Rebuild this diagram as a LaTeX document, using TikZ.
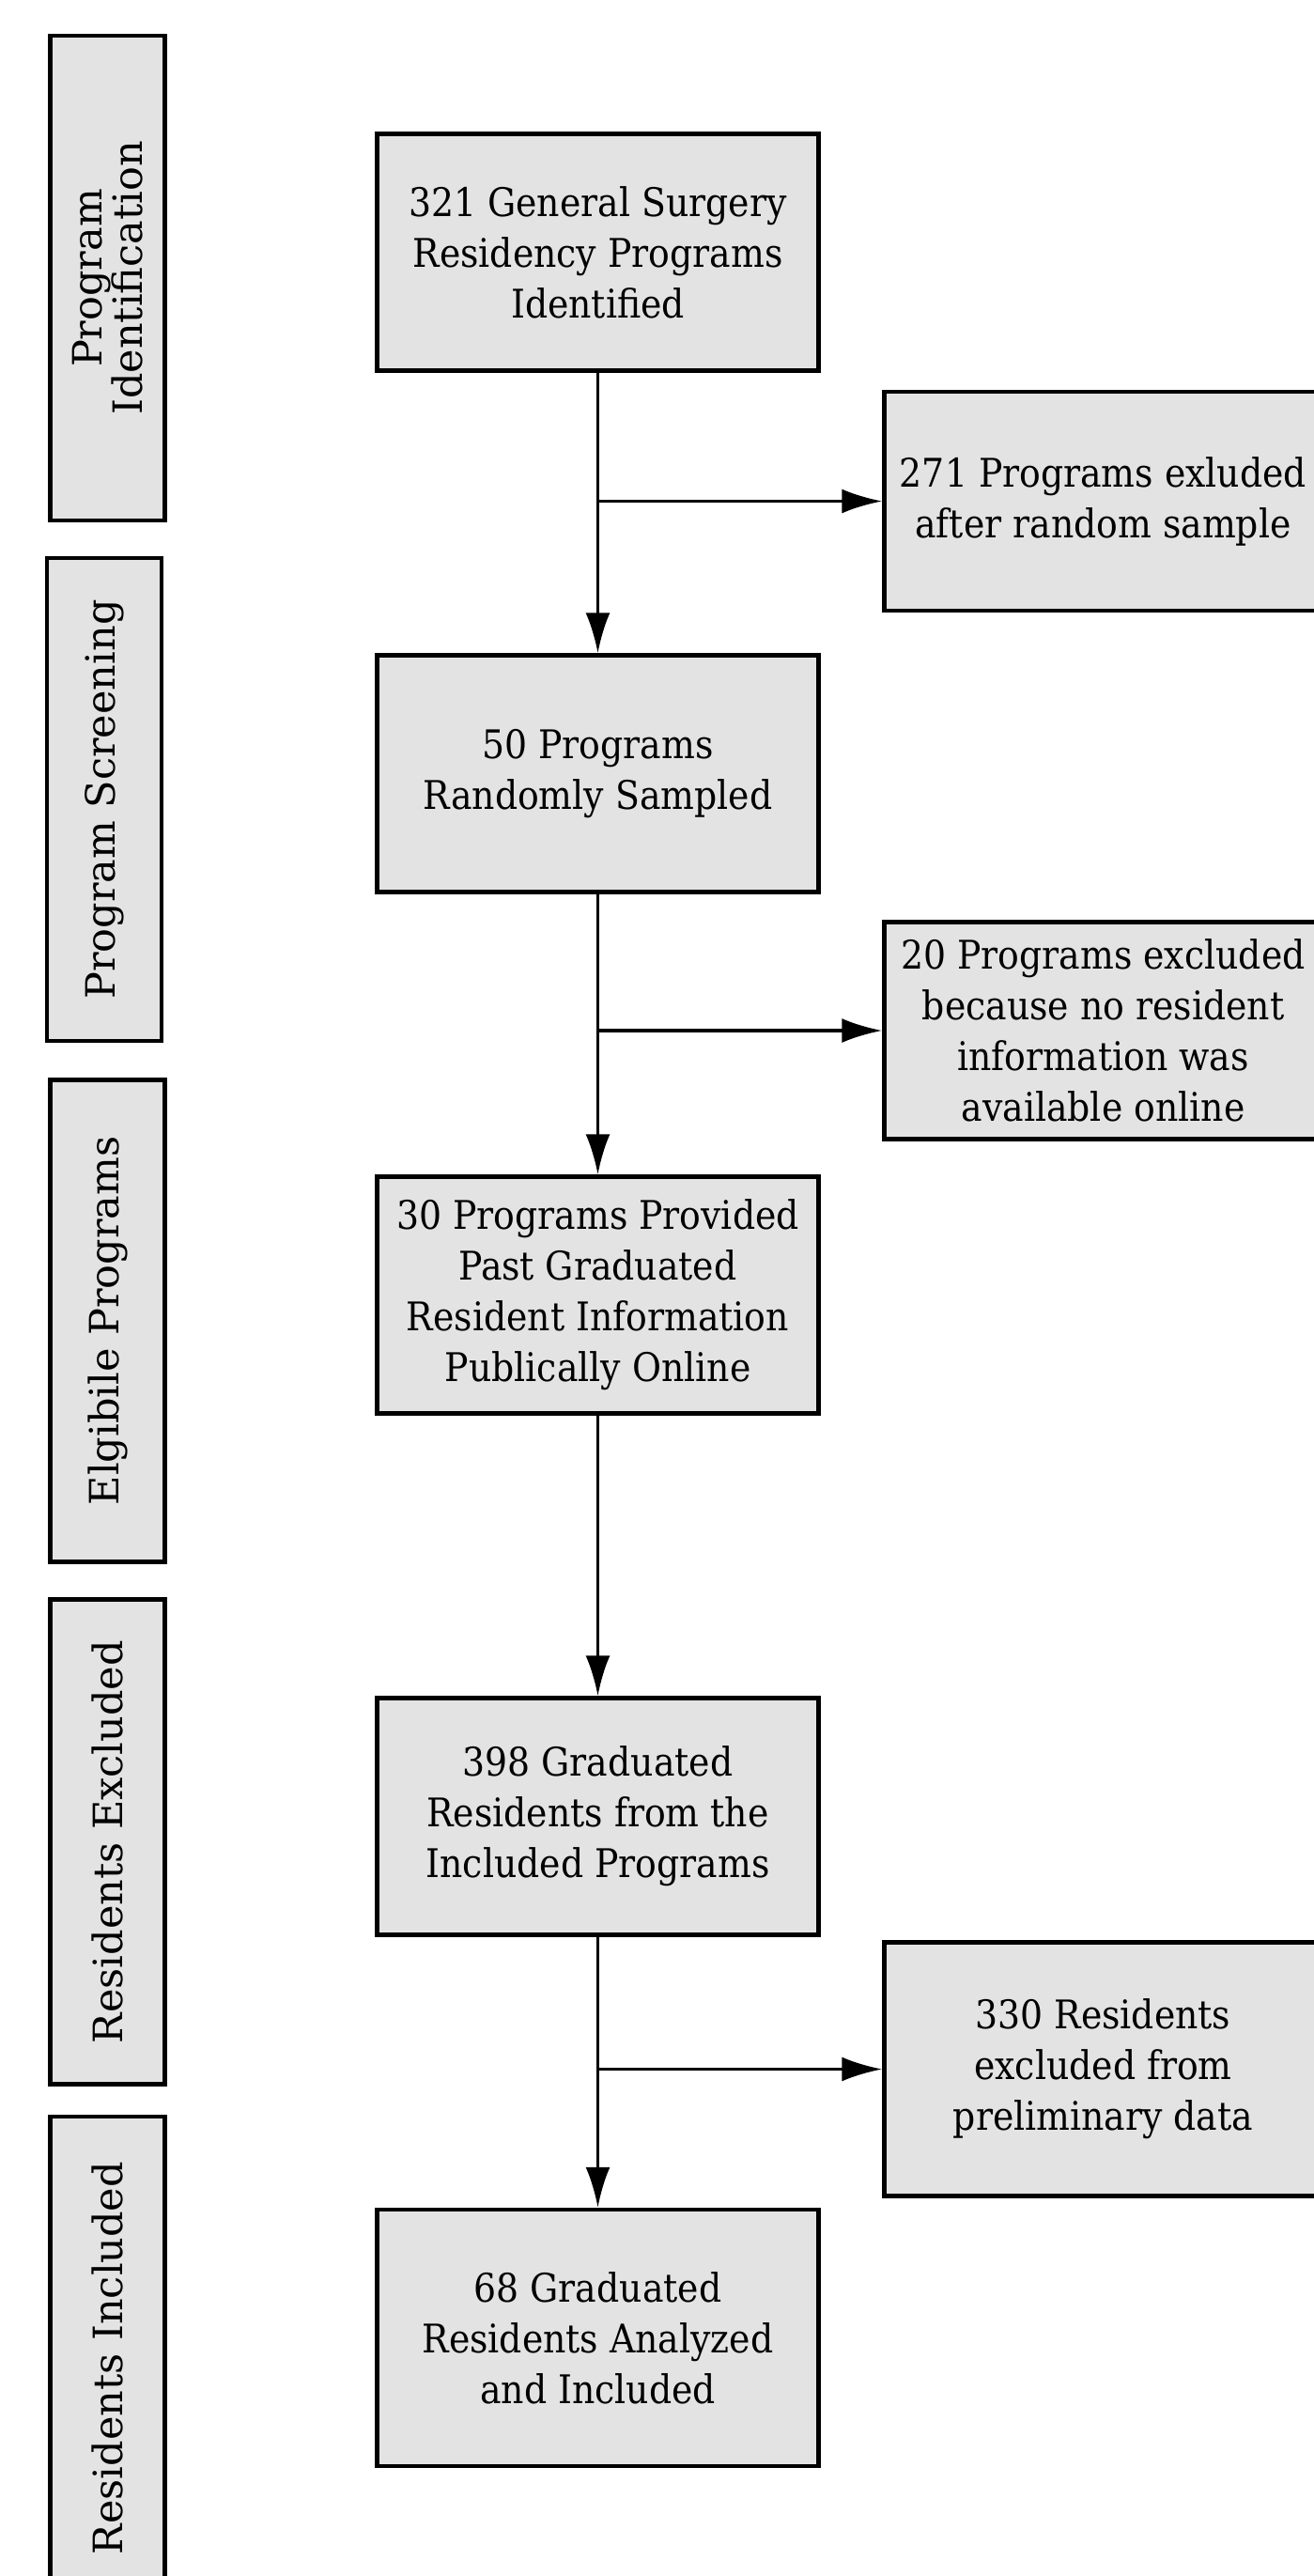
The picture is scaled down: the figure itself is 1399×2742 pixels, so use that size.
\documentclass[tikz,border=0pt]{standalone}
\usepackage{fontspec}
\setmainfont{DejaVu Serif Condensed}
\newfontfamily\sidefont{DejaVu Serif}
\usetikzlibrary{arrows.meta}
\definecolor{boxgray}{HTML}{E3E3E3}
\begin{document}
\begin{tikzpicture}[x=1pt,y=1pt,
  box/.style={draw=black, fill=boxgray, line width=4.5pt, align=center, inner sep=0pt,
    font=\fontsize{42}{54}\selectfont},
  mainbox/.style={box, minimum width=470pt, minimum height=252pt},
  sidebox/.style={draw=black, fill=boxgray, line width=4.5pt, align=center, inner sep=0pt,
    minimum height=122pt, rotate=90, font=\sidefont\fontsize{43}{43}\selectfont},
  arr/.style={line width=3.5pt, -{Latex[length=43pt,width=26pt]}}]
\useasboundingbox (0,0) rectangle (1399,-2742);
% side labels (rotated: minimum width = visual length)
\node[sidebox, minimum width=516pt] (s1) at (114.5,-296) {Program\\Identification};
\node[sidebox, minimum width=514pt] (s2) at (111,-851) {Program Screening};
\node[sidebox, minimum width=513pt] (s3) at (114.5,-1406) {Elgibile Programs};
\node[sidebox, minimum width=516pt] (s4) at (114.5,-1960.5) {Residents Excluded};
\node[sidebox, minimum width=514pt] (s5) at (114.5,-2510) {Residents Included};
% main column
\node[mainbox] (b1) at (636.5,-268.5) {321 General Surgery\\Residency Programs\\Identified};
\node[mainbox] (b2) at (636.5,-823.5) {50 Programs\\Randomly Sampled};
\node[mainbox] (b3) at (636.5,-1378.5) {30 Programs Provided\\Past Graduated\\Resident Information\\Publically Online};
\node[mainbox] (b4) at (636.5,-1933.5) {398 Graduated\\Residents from the\\Included Programs};
\node[mainbox, minimum height=273pt] (b5) at (636.5,-2488.5) {68 Graduated\\Residents Analyzed\\and Included};
% right column
\node[box, minimum width=466pt, minimum height=233pt] (r1) at (1174.5,-533.5) {271 Programs exluded\\after random sample};
\node[box, minimum width=466pt, minimum height=231pt] (r2) at (1174.5,-1097) {20 Programs excluded\\because no resident\\information was\\available online};
\node[box, minimum width=466pt, minimum height=270pt] (r3) at (1174.5,-2202.5) {330 Residents\\excluded from\\preliminary data};
% connectors
\draw[arr] (b1) -- (b2);
\draw[arr] (b2) -- (b3);
\draw[arr] (b3) -- (b4);
\draw[arr] (b4) -- (b5);
\draw[arr] (b1.south |- r1.west) -- (r1.west);
\draw[arr] (b2.south |- r2.west) -- (r2.west);
\draw[arr] (b4.south |- r3.west) -- (r3.west);
\end{tikzpicture}
\end{document}
